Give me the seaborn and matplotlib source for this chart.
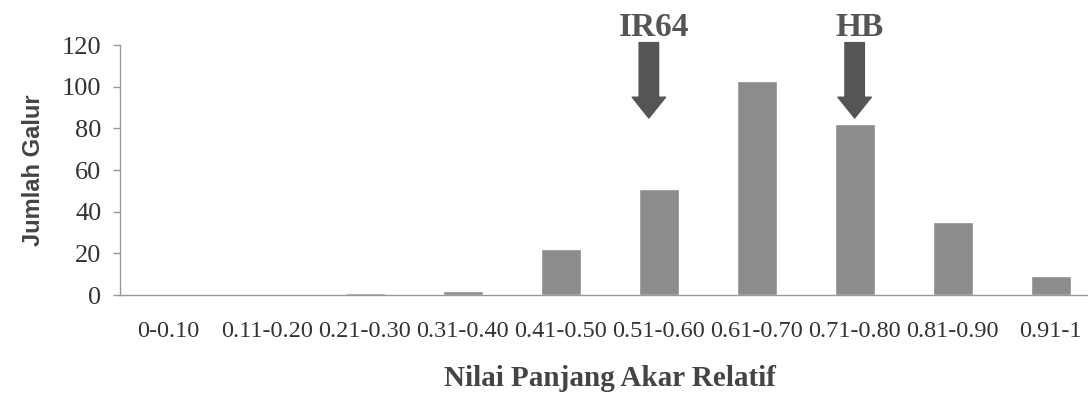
import matplotlib
matplotlib.use("Agg")
import matplotlib.pyplot as plt
import seaborn as sns
import pandas as pd

# Data
categories = ['0-0.10', '0.11-0.20', '0.21-0.30', '0.31-0.40', '0.41-0.50',
              '0.51-0.60', '0.61-0.70', '0.71-0.80', '0.81-0.90', '0.91-1']
counts = [0, 0, 1, 2, 22, 51, 103, 82, 35, 9]
y_ticks = [0, 20, 40, 60, 80, 100, 120]
markers = ['IR64', 'HB']
marker_pos = [4.9, 7.0]

sns.set_style("white")
plt.rcParams['font.family'] = ['Liberation Serif', 'DejaVu Serif']

df = pd.DataFrame({'kelas': categories, 'jumlah': counts})

fig = plt.figure(figsize=(10.88, 3.94), dpi=100)
ax = fig.add_axes([0.110, 0.251, 0.9007, 0.6345])

sns.barplot(data=df, x='kelas', y='jumlah', color='#8c8c8c', width=0.41,
            saturation=1, ax=ax)

ax.set_xlim(-0.5, 9.5)
ax.set_ylim(0, 120)
ax.set_yticks(y_ticks)
ax.tick_params(axis='y', length=5, width=1, color='#999999', labelsize=19,
               labelcolor='#333333', pad=8, left=True)
ax.tick_params(axis='x', length=0, labelsize=17.5, labelcolor='#333333', pad=19)

for side in ['top', 'right']:
    ax.spines[side].set_visible(False)
for side in ['left', 'bottom']:
    ax.spines[side].set_color('#999999')
    ax.spines[side].set_linewidth(1)

ax.set_ylabel('Jumlah Galur', family='Liberation Sans', fontweight='bold',
              fontsize=17, color='#444444', labelpad=12)
ax.set_xlabel('Nilai Panjang Akar Relatif', fontweight='bold', fontsize=21,
              color='#444444', labelpad=16)

# Arrows marking the parents
for name, xp in zip(markers, marker_pos):
    ax.annotate('', xy=(xp, 85), xytext=(xp, 121.2), annotation_clip=False,
                arrowprops=dict(arrowstyle='simple,head_width=1.2,head_length=0.75,tail_width=0.7',
                                mutation_scale=20, color='#555555', shrinkA=0, shrinkB=0))
    ax.text(xp + 0.05, 124.3, name, ha='center', va='baseline', fontsize=24,
            fontweight='bold', color='#555555', clip_on=False)

fig.savefig('out.png', dpi=100)
